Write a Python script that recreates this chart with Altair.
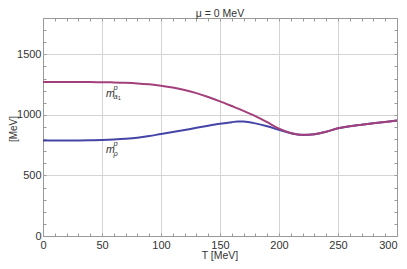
import altair as alt
import pandas as pd

# Temperature grid (MeV)
T_a1 = [0, 10, 20, 30, 40, 50, 60, 70, 80, 90, 100, 110, 120, 130, 140, 150, 160, 170, 180, 190,
        200, 210, 220, 230, 240, 250, 260, 270, 280, 290, 300]
m_a1 = [1272, 1272, 1272, 1272, 1271, 1270, 1268, 1265, 1260, 1252, 1241, 1226, 1206, 1180, 1148, 1112,
        1073, 1033, 990, 940, 886, 851, 835, 840, 861, 889, 906, 919, 931, 942, 953]

T_rho = [0, 10, 20, 30, 40, 50, 60, 70, 80, 90, 100, 110, 120, 130, 140, 150, 160, 165, 170, 180,
         190, 200, 210, 220, 230, 240, 250, 260, 270, 280, 290, 300]
m_rho = [789, 789, 789, 789, 790, 792, 796, 802, 811, 825, 842, 858, 875, 893, 910, 926, 940, 946,
         945, 930, 906, 876, 848, 834, 840, 861, 889, 906, 919, 931, 942, 953]

# annotation anchors (T, value)
lab_T = [53.4, 53.4]
lab_val = [1150, 683]
lab_sub = ["a", "ρ"]
lab_one = ["1", ""]

titles = ["μ = 0 MeV"]
x_title = ["T [MeV]"]
y_title = ["[MeV]"]

x_ticks = list(range(0, 301, 10))
y_ticks = list(range(0, 1801, 100))

W, H = 354, 218

df = pd.concat([
    pd.DataFrame({"T": T_rho, "m": m_rho, "s": "rho"}),
    pd.DataFrame({"T": T_a1, "m": m_a1, "s": "a1"}),
])
lab = pd.DataFrame({"T": lab_T, "m": lab_val, "sub": lab_sub, "one": lab_one})

xs = alt.Scale(domain=[0, 300], nice=False, zero=False)
ys = alt.Scale(domain=[0, 1800], nice=False, zero=False)

FONT = "Liberation Sans"
LC = "#333333"

x_main = alt.X("T:Q", scale=xs, title=None, axis=alt.Axis(
    values=x_ticks, labelExpr="datum.value % 50 == 0 ? datum.label : ''",
    gridOpacity={"condition": {"test": "datum.value % 50 == 0 && datum.value > 0 && datum.value < 300", "value": 1}, "value": 0},
    gridColor="#d4d4d4", domain=False, offset=-3, tickSize=3, tickColor="#999999",
    labelPadding=3, labelFont=FONT, labelFontSize=11, labelColor=LC,
    labelAlign={"condition": {"test": "datum.value == 300", "value": "right"}, "value": "center"},
    labelFlush=False, labelOverlap=False))
y_main = alt.Y("m:Q", scale=ys, title=None, axis=alt.Axis(
    values=y_ticks, labelExpr="datum.value % 500 == 0 ? datum.label : ''",
    gridOpacity={"condition": {"test": "datum.value % 500 == 0 && datum.value > 0", "value": 1}, "value": 0},
    gridColor="#d4d4d4", domain=False, offset=-3, tickSize=3, tickColor="#999999",
    labelPadding=2, labelFont=FONT, labelFontSize=11, labelColor=LC,
    labelFlush=False, labelOverlap=False, format="d"))

lines = alt.Chart(df).mark_line(strokeWidth=2, interpolate="monotone").encode(
    x=x_main, y=y_main,
    color=alt.Color("s:N", scale=alt.Scale(domain=["rho", "a1"], range=["#4545a8", "#a3407c"]), legend=None),
    order=alt.Order("s:N", sort="descending"),
)

frame_ax = alt.Chart(df).mark_point(opacity=0).encode(
    x=alt.X("T:Q", scale=xs, axis=alt.Axis(orient="top", values=x_ticks, labels=False, domain=False,
                                           grid=False, offset=-3, tickSize=3, tickColor="#999999", title=None)),
    y=alt.Y("m:Q", scale=ys, axis=alt.Axis(orient="right", values=y_ticks, labels=False, domain=False,
                                           grid=False, offset=-3, tickSize=3, tickColor="#999999", title=None)),
)

xt = alt.X("T:Q", scale=xs, axis=None)
yt = alt.Y("m:Q", scale=ys, axis=None)
base_t = alt.Chart(lab)
m_txt = base_t.mark_text(align="left", baseline="alphabetic", font=FONT, fontSize=10.5,
                         fontStyle="italic", color=LC).encode(x=xt, y=yt, text=alt.value("m"))
p_txt = base_t.mark_text(align="left", baseline="alphabetic", font=FONT, fontSize=7.5,
                         fontStyle="italic", color=LC, dx=7.5, dy=-7).encode(x=xt, y=yt, text=alt.value("p"))
s_txt = base_t.mark_text(align="left", baseline="alphabetic", font=FONT, fontSize=7.5,
                         fontStyle="italic", color=LC, dx=7.5, dy=2.5).encode(x=xt, y=yt, text="sub:N")
o_txt = base_t.mark_text(align="left", baseline="alphabetic", font=FONT, fontSize=5.5,
                         color=LC, dx=11.8, dy=3.5).encode(x=xt, y=yt, text="one:N")

t_title = alt.Chart(pd.DataFrame({"t": titles})).mark_text(
    font=FONT, fontSize=10.5, color=LC, align="center", baseline="alphabetic"
).encode(x=alt.value(W / 2), y=alt.value(-0.6), text="t:N")
t_x = alt.Chart(pd.DataFrame({"t": x_title})).mark_text(
    font=FONT, fontSize=10.5, color=LC, align="center", baseline="alphabetic"
).encode(x=alt.value(W / 2), y=alt.value(H + 23.2), text="t:N")
t_y = alt.Chart(pd.DataFrame({"t": y_title})).mark_text(
    font=FONT, fontSize=10, color=LC, align="center", baseline="middle", angle=270
).encode(x=alt.value(-29.3), y=alt.value(H / 2 + 2), text="t:N")

chart = alt.layer(lines, frame_ax, m_txt, p_txt, s_txt, o_txt, t_title, t_x, t_y).resolve_axis(
    x="independent", y="independent"
).properties(
    width=W, height=H,
    autosize=alt.AutoSizeParams(type="none"),
    padding={"left": 35, "top": 10, "right": 2, "bottom": 25},
).configure_view(stroke="#999999", strokeWidth=1)

chart.save("out.html", embed_options={"renderer": "svg", "actions": False})
